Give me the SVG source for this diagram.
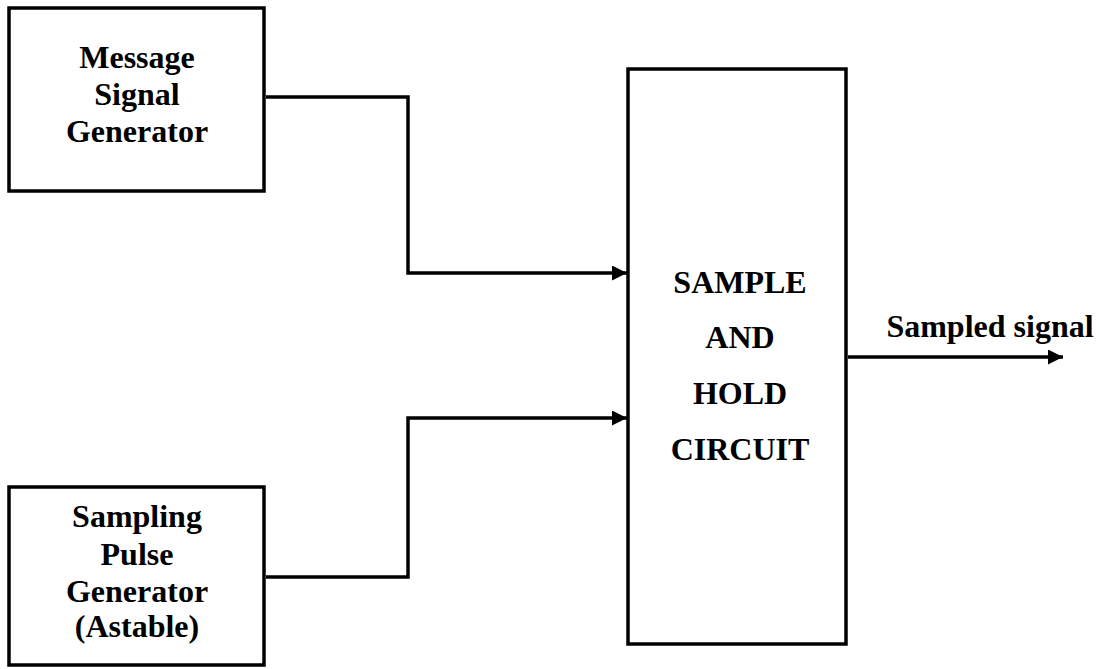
<svg xmlns="http://www.w3.org/2000/svg" width="1100" height="669" viewBox="0 0 1100 669">
<style>
.box{fill:#fff;stroke:#000;stroke-width:3.5}
.lbl{font-family:"Liberation Serif","Times New Roman",serif;font-weight:bold;font-size:32px;fill:#000;text-anchor:middle}
.wire{fill:none;stroke:#000;stroke-width:3.5}
</style>
<defs>
<marker id="arr" markerUnits="userSpaceOnUse" markerWidth="16" markerHeight="16" refX="15" refY="7.5" orient="auto">
<path d="M0,0 L15,7.5 L0,15 Z" fill="#000"/>
</marker>
</defs>
<g id="connectors">
<path class="wire" d="M266,97 H408 V273 H627" marker-end="url(#arr)"/>
<path class="wire" d="M266,577 H408 V418 H627" marker-end="url(#arr)"/>
<path class="wire" d="M848,357 H1063" marker-end="url(#arr)"/>
</g>
<g id="msg">
<rect class="box" x="9" y="8" width="255" height="183"/>
<text class="lbl" x="137" y="68">Message</text>
<text class="lbl" x="137" y="105">Signal</text>
<text class="lbl" x="137" y="142">Generator</text>
</g>
<g id="pulse">
<rect class="box" x="9" y="487" width="255" height="178"/>
<text class="lbl" x="137" y="527">Sampling</text>
<text class="lbl" x="137" y="565">Pulse</text>
<text class="lbl" x="137" y="602">Generator</text>
<text class="lbl" x="137" y="637">(Astable)</text>
</g>
<g id="sh">
<rect class="box" x="628" y="69" width="218" height="575"/>
<text class="lbl" x="740" y="293">SAMPLE</text>
<text class="lbl" x="740" y="348">AND</text>
<text class="lbl" x="740" y="404">HOLD</text>
<text class="lbl" x="740" y="460">CIRCUIT</text>
</g>
<g id="out">
<text class="lbl" x="990" y="337">Sampled signal</text>
</g>
</svg>
